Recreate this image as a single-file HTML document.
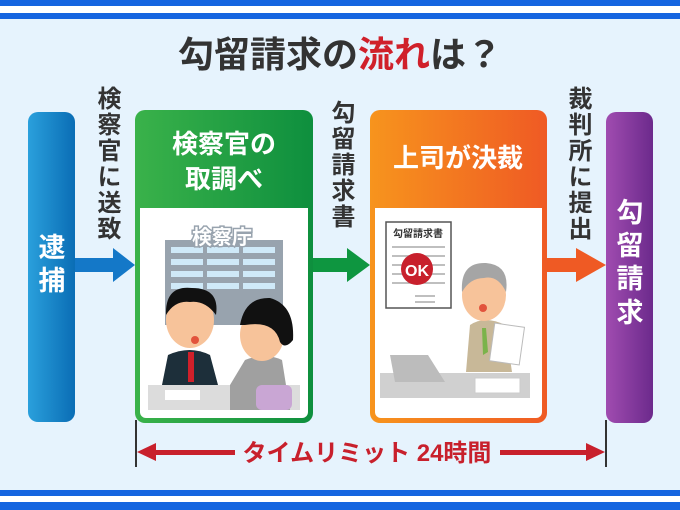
<!DOCTYPE html>
<html><head><meta charset="utf-8"><style>
body{margin:0;width:680px;height:510px;overflow:hidden;background:#e6f3fd;font-family:"Liberation Sans","Noto Sans CJK JP",sans-serif;}
.v{position:absolute;writing-mode:vertical-rl;font-weight:bold;color:#333;font-size:24px;line-height:1;letter-spacing:2px;}
</style></head><body>
<svg width="680" height="510" style="position:absolute;left:0;top:0" font-family="Liberation Sans, Noto Sans CJK JP, sans-serif" font-weight="bold">
<defs>
<linearGradient id="gb" x1="0" x2="1"><stop offset="0" stop-color="#2aa0dc"/><stop offset="1" stop-color="#0a6db5"/></linearGradient>
<linearGradient id="gp" x1="0" x2="1"><stop offset="0" stop-color="#a04cb0"/><stop offset="1" stop-color="#6c2a8c"/></linearGradient>
<linearGradient id="gg" x1="0" x2="1"><stop offset="0" stop-color="#3ab24a"/><stop offset="1" stop-color="#0e8f3e"/></linearGradient>
<linearGradient id="go" x1="0" x2="1"><stop offset="0" stop-color="#f7941d"/><stop offset="1" stop-color="#ef5a24"/></linearGradient>
</defs>
<rect x="0" y="0" width="680" height="6" fill="#1565e0"/>
<rect x="0" y="13" width="680" height="6" fill="#1565e0"/>
<rect x="0" y="490" width="680" height="6" fill="#1565e0"/>
<rect x="0" y="502" width="680" height="8" fill="#1565e0"/>
<rect x="0" y="6" width="680" height="7" fill="#fff"/>
<rect x="0" y="496" width="680" height="6" fill="#fff"/>
<text x="340" y="67" text-anchor="middle" font-size="36" fill="#333">勾留請求の<tspan fill="#d0202a">流れ</tspan>は？</text>
<!-- 逮捕 -->
<rect x="28" y="112" width="47" height="310" rx="10" fill="url(#gb)"/>
<text x="52" y="257" text-anchor="middle" font-size="27" fill="#fff">逮</text>
<text x="52" y="290" text-anchor="middle" font-size="27" fill="#fff">捕</text>
<!-- 勾留請求 -->
<rect x="606" y="112" width="47" height="311" rx="10" fill="url(#gp)"/>
<g font-size="27" fill="#fff" text-anchor="middle"><text x="630" y="222">勾</text><text x="630" y="255">留</text><text x="630" y="288">請</text><text x="630" y="322">求</text></g>
<!-- arrows -->
<rect x="75" y="258" width="40" height="14" fill="#1478c8"/><polygon points="113,248 135,265 113,282" fill="#1478c8"/>
<rect x="311" y="258" width="38" height="14" fill="#0e9640"/><polygon points="347,248 370,265 347,282" fill="#0e9640"/>
<rect x="546" y="258" width="38" height="14" fill="#ef5a24"/><polygon points="576,248 606,265 576,282" fill="#ef5a24"/>
<!-- green box -->
<rect x="135" y="110" width="178" height="313" rx="10" fill="url(#gg)"/>
<rect x="140" y="208" width="168" height="210" rx="6" fill="#fff"/>
<rect x="140" y="208" width="168" height="8" fill="#fff"/>
<text x="224" y="153" text-anchor="middle" font-size="26" fill="#fff">検察官の</text>
<text x="224" y="188" text-anchor="middle" font-size="26" fill="#fff">取調べ</text>
<!-- building -->
<rect x="165" y="240" width="118" height="85" fill="#98a3ae"/>
<g fill="#cfe9f8"><rect x="171" y="247" width="32" height="6"/><rect x="207" y="247" width="32" height="6"/><rect x="243" y="247" width="32" height="6"/>
<rect x="171" y="259" width="32" height="6"/><rect x="207" y="259" width="32" height="6"/><rect x="243" y="259" width="32" height="6"/>
<rect x="171" y="271" width="32" height="6"/><rect x="207" y="271" width="32" height="6"/><rect x="243" y="271" width="32" height="6"/>
<rect x="171" y="283" width="32" height="6"/><rect x="207" y="283" width="32" height="6"/><rect x="243" y="283" width="32" height="6"/></g>
<text x="222" y="244" text-anchor="middle" font-size="20" fill="#fff" stroke="#98a3ae" stroke-width="3" paint-order="stroke">検察庁</text>
<!-- people -->
<rect x="148" y="385" width="152" height="25" fill="#dcdcdc"/>
<path d="M162 385 L168 355 Q190 345 210 355 L218 385Z" fill="#1d2f3a"/>
<rect x="188" y="352" width="6" height="30" fill="#d0202a"/>
<ellipse cx="190" cy="320" rx="24" ry="28" fill="#f7c39a"/>
<path d="M166 315 Q165 285 192 288 Q220 288 216 315 Q205 300 190 302 Q175 300 166 315Z" fill="#111"/>
<ellipse cx="195" cy="340" rx="4" ry="4" fill="#e2533c"/>
<path d="M230 385 L245 360 Q265 352 282 360 L290 410 L230 410Z" fill="#a0a0a0"/>
<ellipse cx="262" cy="335" rx="22" ry="26" fill="#f7c39a"/>
<path d="M240 325 Q245 297 270 298 Q295 305 293 340 Q285 350 280 342 Q275 320 245 325Z" fill="#111"/>
<rect x="256" y="385" width="36" height="25" rx="6" fill="#c9a6d4"/>
<rect x="165" y="390" width="35" height="10" fill="#fff"/>
<!-- orange box -->
<rect x="370" y="110" width="177" height="313" rx="10" fill="url(#go)"/>
<rect x="375" y="208" width="167" height="210" rx="6" fill="#fff"/>
<rect x="375" y="208" width="167" height="8" fill="#fff"/>
<text x="458" y="167" text-anchor="middle" font-size="26" fill="#fff">上司が決裁</text>
<!-- doc -->
<rect x="386" y="222" width="65" height="86" fill="#fff" stroke="#555" stroke-width="1.5"/>
<text x="418" y="237" text-anchor="middle" font-size="10" fill="#333">勾留請求書</text>
<g stroke="#aaa" stroke-width="1.5"><line x1="392" y1="247" x2="445" y2="247"/><line x1="392" y1="256" x2="445" y2="256"/><line x1="392" y1="265" x2="445" y2="265"/><line x1="392" y1="274" x2="445" y2="274"/><line x1="392" y1="283" x2="445" y2="283"/><line x1="415" y1="296" x2="435" y2="296"/><line x1="415" y1="302" x2="435" y2="302"/></g>
<circle cx="417" cy="269" r="16" fill="#c8202c"/>
<text x="417" y="276" text-anchor="middle" font-size="16" fill="#fff">OK</text>
<!-- boss -->
<rect x="380" y="373" width="150" height="25" fill="#d0d0d0"/>
<path d="M390 355 L428 355 L445 382 L395 382Z" fill="#bcbcbc"/>
<path d="M466 372 L470 325 Q485 315 505 325 L512 372Z" fill="#c8b898"/>
<polygon points="482,328 486,328 488,352 483,355" fill="#7bb34b"/>
<ellipse cx="484" cy="295" rx="22" ry="26" fill="#f7c39a"/>
<path d="M462 292 Q460 262 486 263 Q510 265 506 292 Q498 275 484 278 Q470 278 462 292Z" fill="#a5a5a5"/>
<ellipse cx="483" cy="308" rx="4" ry="4" fill="#e2533c"/>
<rect x="492" y="325" width="30" height="38" fill="#fff" stroke="#bbb" transform="rotate(8 507 344)"/>
<rect x="475" y="378" width="45" height="15" fill="#fff" stroke="#ccc"/>
<!-- timeline -->
<line x1="136" y1="420" x2="136" y2="467" stroke="#333" stroke-width="2"/>
<line x1="606" y1="420" x2="606" y2="467" stroke="#333" stroke-width="2"/>
<rect x="150" y="450" width="85" height="5" fill="#c8202c"/><polygon points="137,452 156,443 156,461" fill="#c8202c"/>
<rect x="500" y="450" width="90" height="5" fill="#c8202c"/><polygon points="605,452 586,443 586,461" fill="#c8202c"/>
<text x="367" y="461" text-anchor="middle" font-size="24" fill="#c8202c">タイムリミット 24時間</text>
</svg>
<div class="v" style="left:94px;top:86px;">検察官に送致</div>
<div class="v" style="left:328px;top:100px;">勾留請求書</div>
<div class="v" style="left:565px;top:86px;">裁判所に提出</div>
</body></html>
